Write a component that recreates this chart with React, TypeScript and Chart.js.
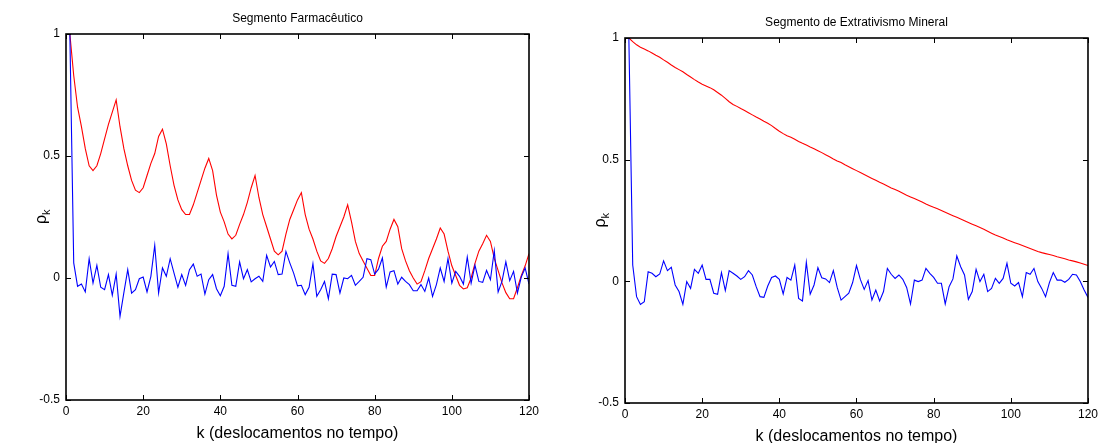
import React, { useEffect, useRef } from 'react';
import { Chart, registerables } from 'chart.js';

Chart.register(...registerables);

// lag axis (k = 1 corresponds to lag 0, as in the original MATLAB plot)
const lags: number[] = Array.from({ length: 120 }, (_, i) => i + 1);

const xTicks = [0, 20, 40, 60, 80, 100, 120];
const yTicks = [-0.5, 0, 0.5, 1];

const titleLeft = 'Segmento Farmacêutico';
const titleRight = 'Segmento de Extrativismo Mineral';
const xLabel = 'k (deslocamentos no tempo)';

// Left panel: Segmento Farmacêutico
const pharmaRed = [
  1.0, 0.83, 0.70, 0.62, 0.53, 0.46, 0.44, 0.46, 0.51, 0.57,
  0.63, 0.68, 0.73, 0.62, 0.53, 0.46, 0.40, 0.36, 0.35, 0.37,
  0.42, 0.47, 0.51, 0.58, 0.61, 0.55, 0.46, 0.38, 0.32, 0.28,
  0.26, 0.26, 0.30, 0.35, 0.40, 0.45, 0.49, 0.44, 0.34, 0.27,
  0.23, 0.18, 0.16, 0.175, 0.22, 0.26, 0.31, 0.37, 0.42, 0.33,
  0.26, 0.21, 0.16, 0.11, 0.095, 0.11, 0.18, 0.24, 0.28, 0.32,
  0.35, 0.26, 0.20, 0.16, 0.11, 0.07, 0.06, 0.08, 0.12, 0.17,
  0.21, 0.25, 0.30, 0.23, 0.15, 0.10, 0.07, 0.04, 0.01, 0.01,
  0.08, 0.13, 0.15, 0.20, 0.24, 0.21, 0.12, 0.07, 0.03, 0.0,
  -0.025, -0.015, 0.03, 0.08, 0.12, 0.16, 0.205, 0.18, 0.11, 0.05,
  0.01, -0.03, -0.045, -0.04, 0.0, 0.06, 0.11, 0.14, 0.175, 0.15,
  0.08, 0.03, -0.02, -0.06, -0.085, -0.085, -0.04, 0.01, 0.05, 0.10,
];

const pharmaBlue = [
  1.0, 0.062, -0.034, -0.025, -0.057, 0.079, -0.021, 0.052, -0.038, -0.048,
  0.014, -0.071, 0.016, -0.157, -0.06, 0.034, -0.062, -0.048, -0.003, 0.004,
  -0.057, 0.007, 0.134, -0.062, 0.041, 0.007, 0.079, 0.02, -0.038, 0.014,
  -0.03, 0.034, 0.057, 0.007, 0.016, -0.066, -0.007, 0.014, -0.044, -0.073,
  -0.034, 0.10, -0.03, -0.034, 0.066, -0.003, 0.034, -0.016, -0.003, 0.007,
  -0.014, 0.093, 0.045, 0.068, 0.014, 0.016, 0.109, 0.062, 0.02, -0.032,
  -0.03, -0.068, -0.038, 0.059, -0.075, -0.048, -0.014, -0.085, 0.016, 0.014,
  -0.062, 0.0, -0.003, 0.011, -0.030, -0.014, 0.003, 0.079, 0.075, 0.016,
  0.036, 0.082, -0.037, 0.025, 0.030, -0.025, 0.003, -0.014, -0.027, -0.052,
  -0.052, -0.027, -0.055, 0.0, -0.075, -0.027, 0.041, -0.014, 0.079, -0.021,
  0.027, 0.007, -0.025, 0.086, -0.021, 0.052, -0.014, -0.018, 0.031, -0.007,
  0.112, -0.057, -0.014, 0.066, -0.011, 0.027, -0.062, 0.004, 0.041, -0.025,
];

// Right panel: Segmento de Extrativismo Mineral
const mineralRed = [
  1.0, 0.985, 0.972, 0.962, 0.955, 0.947, 0.938, 0.929, 0.921, 0.91,
  0.9, 0.889, 0.879, 0.87, 0.861, 0.85, 0.84, 0.829, 0.819, 0.81,
  0.803, 0.796, 0.787, 0.776, 0.765, 0.752, 0.738, 0.727, 0.719, 0.71,
  0.702, 0.693, 0.684, 0.675, 0.667, 0.658, 0.65, 0.64, 0.628, 0.617,
  0.607, 0.598, 0.592, 0.584, 0.575, 0.567, 0.56, 0.552, 0.545, 0.537,
  0.529, 0.52, 0.512, 0.503, 0.495, 0.488, 0.479, 0.471, 0.463, 0.455,
  0.447, 0.439, 0.431, 0.423, 0.415, 0.407, 0.4, 0.392, 0.384, 0.377,
  0.37, 0.362, 0.354, 0.347, 0.34, 0.333, 0.326, 0.318, 0.311, 0.304,
  0.298, 0.291, 0.284, 0.277, 0.27, 0.263, 0.256, 0.249, 0.242, 0.235,
  0.228, 0.221, 0.214, 0.206, 0.198, 0.19, 0.184, 0.178, 0.171, 0.165,
  0.159, 0.153, 0.147, 0.141, 0.135, 0.129, 0.123, 0.118, 0.114, 0.11,
  0.106, 0.101, 0.097, 0.093, 0.088, 0.084, 0.08, 0.075, 0.07, 0.065,
];

const mineralBlue = [
  1.0, 0.067, -0.063, -0.095, -0.084, 0.039, 0.033, 0.019, 0.030, 0.084,
  0.044, 0.058, -0.015, -0.042, -0.095, -0.001, -0.029, 0.049, 0.033, 0.067,
  0.008, 0.008, -0.049, -0.053, 0.036, -0.038, 0.044, 0.033, 0.022, 0.008,
  0.019, 0.044, 0.026, -0.022, -0.063, -0.066, -0.019, 0.016, 0.022, 0.008,
  -0.052, 0.016, 0.005, 0.067, -0.070, -0.081, 0.078, -0.053, -0.015, 0.056,
  0.015, 0.010, -0.005, 0.044, -0.025, -0.077, -0.063, -0.049, -0.005, 0.065,
  0.008, -0.033, 0.003, -0.077, -0.036, -0.081, -0.042, 0.053, 0.029, 0.012,
  0.026, 0.008, -0.025, -0.093, 0.005, -0.001, 0.005, 0.053, 0.033, 0.016,
  -0.008, -0.008, -0.093, -0.022, 0.010, 0.104, 0.060, 0.026, -0.074, -0.042,
  0.049, -0.001, 0.029, -0.042, -0.029, 0.012, -0.008, 0.012, 0.074, -0.008,
  -0.019, -0.005, -0.063, 0.036, 0.029, 0.053, -0.001, -0.029, -0.063, -0.005,
  0.036, 0.005, 0.005, -0.004, 0.008, 0.029, 0.026, -0.001, -0.036, -0.066,
];

const FONT = '"Liberation Sans", Arial, Helvetica, sans-serif';

const framePlugin = {
  id: 'matlabFrame',
  afterDatasetsDraw(chart: any, _args: any, opts: any) {
    const { ctx, chartArea: a, scales } = chart;
    ctx.save();
    ctx.strokeStyle = '#000';
    ctx.lineWidth = 1;
    const tl = 5;
    ctx.beginPath();
    scales.x.ticks.forEach((t: any) => {
      const px = Math.round(scales.x.getPixelForValue(t.value)) + 0.5;
      ctx.moveTo(px, a.bottom);
      ctx.lineTo(px, a.bottom - tl);
      ctx.moveTo(px, a.top);
      ctx.lineTo(px, a.top + tl);
    });
    scales.y.ticks.forEach((t: any) => {
      const py = Math.round(scales.y.getPixelForValue(t.value)) + 0.5;
      ctx.moveTo(a.left, py);
      ctx.lineTo(a.left + tl, py);
      ctx.moveTo(a.right, py);
      ctx.lineTo(a.right - tl, py);
    });
    ctx.stroke();
    ctx.lineWidth = 1.6;
    ctx.strokeRect(a.left, a.top, a.right - a.left, a.bottom - a.top);

    ctx.fillStyle = '#000';
    // title
    ctx.font = `12px ${FONT}`;
    ctx.textAlign = 'center';
    ctx.textBaseline = 'alphabetic';
    ctx.fillText(opts.title, (a.left + a.right) / 2, opts.titleY);
    // x label
    ctx.font = `16px ${FONT}`;
    ctx.fillText(opts.xLabel, (a.left + a.right) / 2, opts.xLabelY);
    // y label rho_k
    ctx.translate(opts.yLabelX, (a.top + a.bottom) / 2);
    ctx.rotate(-Math.PI / 2);
    ctx.textAlign = 'left';
    ctx.font = `16px ${FONT}`;
    ctx.fillText('ρ', -7, 0);
    ctx.font = `11px ${FONT}`;
    ctx.fillText('k', 2, 4);
    ctx.restore();
  },
};

function makeConfig(red: number[], blue: number[], o: any) {
  return {
    type: 'line',
    data: {
      datasets: [
        {
          data: lags.map((k, i) => ({ x: k, y: blue[i] })),
          borderColor: '#0000ff',
          borderWidth: 1.1,
          pointRadius: 0,
          tension: 0,
        },
        {
          data: lags.map((k, i) => ({ x: k, y: red[i] })),
          borderColor: '#ff0000',
          borderWidth: 1.1,
          pointRadius: 0,
          tension: 0,
        },
      ],
    },
    options: {
      animation: false,
      responsive: false,
      devicePixelRatio: 1,
      layout: { padding: { left: 0, right: o.padRight, top: o.padTop, bottom: 0 } },
      plugins: {
        legend: { display: false },
        tooltip: { enabled: false },
        matlabFrame: o.frame,
      },
      scales: {
        x: {
          type: 'linear',
          min: 0,
          max: 120,
          afterBuildTicks: (s: any) => { s.ticks = xTicks.map((v) => ({ value: v })); },
          afterFit: (s: any) => { s.height = o.xHeight; },
          grid: { display: false, drawTicks: false },
          border: { display: false },
          ticks: {
            color: '#000',
            font: { family: FONT, size: 12 },
            padding: 4,
            maxRotation: 0,
            autoSkip: false,
            callback: (v: any) => String(v),
          },
        },
        y: {
          type: 'linear',
          min: -0.5,
          max: 1,
          afterBuildTicks: (s: any) => { s.ticks = yTicks.map((v) => ({ value: v })); },
          afterFit: (s: any) => { s.width = o.yWidth; },
          grid: { display: false, drawTicks: false },
          border: { display: false },
          ticks: {
            color: '#000',
            font: { family: FONT, size: 12 },
            padding: 6,
            autoSkip: false,
            callback: (v: any) => String(v),
          },
        },
      },
    },
    plugins: [framePlugin],
  };
}

function Panel(props: { red: number[]; blue: number[]; o: any; left: number }) {
  const ref = useRef<HTMLCanvasElement | null>(null);
  useEffect(() => {
    if (!ref.current) return;
    const chart = new Chart(ref.current, makeConfig(props.red, props.blue, props.o) as any);
    return () => chart.destroy();
  }, []);
  return (
    <canvas
      ref={ref}
      width={551}
      height={443}
      style={{ position: 'absolute', left: props.left, top: 0, width: 551, height: 443 }}
    />
  );
}

export default function App() {
  useEffect(() => {
    document.body.style.margin = '0';
    document.body.style.background = '#fff';
  }, []);
  return (
    <div style={{ position: 'absolute', left: 0, top: 0, width: 1102, height: 443, background: '#fff' }}>
      <Panel
        red={pharmaRed}
        blue={pharmaBlue}
        left={0}
        o={{
          padRight: 22,
          padTop: 34,
          xHeight: 43,
          yWidth: 66,
          frame: { title: titleLeft, titleY: 22, xLabel, xLabelY: 438, yLabelX: 46 },
        }}
      />
      <Panel
        red={mineralRed}
        blue={mineralBlue}
        left={551}
        o={{
          padRight: 14,
          padTop: 38,
          xHeight: 40,
          yWidth: 74,
          frame: { title: titleRight, titleY: 26, xLabel, xLabelY: 440.5, yLabelX: 54 },
        }}
      />
    </div>
  );
}
